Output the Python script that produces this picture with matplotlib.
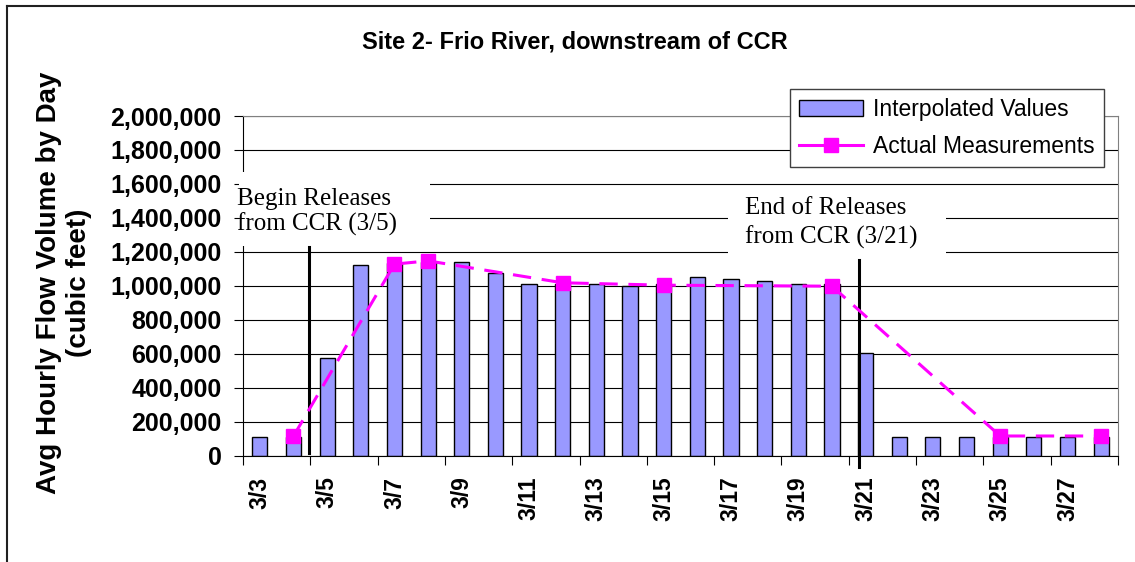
import numpy as np
import matplotlib
matplotlib.use('Agg')
import matplotlib.pyplot as plt
from matplotlib.patches import Rectangle
from matplotlib.lines import Line2D
from matplotlib.ticker import FuncFormatter, FixedLocator

plt.rcParams['font.family'] = ['Liberation Sans', 'DejaVu Sans']

# data
days = ['3/3', '3/4', '3/5', '3/6', '3/7', '3/8', '3/9', '3/10', '3/11', '3/12',
        '3/13', '3/14', '3/15', '3/16', '3/17', '3/18', '3/19', '3/20', '3/21',
        '3/22', '3/23', '3/24', '3/25', '3/26', '3/27', '3/28']
interpolated = [108000, 108000, 577000, 1120000, 1132000, 1140000, 1139000, 1078000,
                1012000, 1010000, 1012000, 1000000, 1012000, 1050000, 1040000, 1030000,
                1012000, 1010000, 602000, 108000, 108000, 108000, 108000, 108000,
                108000, 108000]
meas_days = ['3/4', '3/7', '3/8', '3/12', '3/15', '3/20', '3/25', '3/28']
meas_vals = [115000, 1128000, 1147000, 1018000, 1004000, 998000, 116000, 116000]
label_days = days[::2]

W, H = 1135, 562
fig = plt.figure(figsize=(W / 100, H / 100), dpi=100)
fig.patch.set_facecolor('white')

ax = fig.add_axes([243 / W, 1 - 455.7 / H, (1118 - 243) / W, (455.7 - 116) / H])

x = np.arange(len(days))
bars = ax.bar(x, interpolated, width=0.45, color='#9999FF', edgecolor='black',
              linewidth=1.0, zorder=2, label='Interpolated Values')

mx = [days.index(d) for d in meas_days]
ax.plot(mx, meas_vals, color='#FF00FF', lw=2.2, ls=(0, (6, 3.5)),
        marker='s', markersize=9.5, zorder=4)
line_handle = Line2D([], [], color='#FF00FF', lw=2.2, marker='s', markersize=9.5,
                     label='Actual Measurements')

ax.set_xlim(-0.5, len(days) - 0.5)
ax.set_ylim(0, 2000000)

# grid and spines
ax.set_yticks(np.arange(0, 2000001, 200000))
ax.yaxis.grid(True, color='black', lw=0.8)
ax.set_axisbelow(True)
ax.yaxis.set_major_formatter(FuncFormatter(lambda v, p: f'{int(v):,}'))
for side in ['top', 'right']:
    ax.spines[side].set_color('#808080')
for side in ['left', 'bottom']:
    ax.spines[side].set_color('black')
ax.tick_params(axis='y', length=6.5, width=0.8, pad=9, labelsize=18)
for lab in ax.get_yticklabels():
    lab.set_fontweight('bold')

# category ticks between every second day, labels on the day
ax.xaxis.set_major_locator(FixedLocator(np.arange(-0.5, len(days), 2)))
ax.xaxis.set_major_formatter(FuncFormatter(lambda v, p: ''))
ax.xaxis.set_minor_locator(FixedLocator(x[::2]))
ax.set_xticklabels(label_days, minor=True, rotation=90, fontsize=16.5,
                   fontweight='bold', va='top')
ax.tick_params(axis='x', which='major', length=6.5, width=0.8)
ax.tick_params(axis='x', which='minor', length=0, pad=15)

# release markers
ax.plot([1.46, 1.46], [16000, 1228000], color='black', lw=2.2, zorder=3)
ax.plot([17.8, 17.8], [-66000, 1150000], color='black', lw=2.2, zorder=3,
        clip_on=False)

serif = 'Liberation Serif'
ax.add_patch(Rectangle((-0.62, 1234000), 5.67, 435000, facecolor='white',
                       edgecolor='none', zorder=2.6, clip_on=False))
ax.text(-0.68, 1510000, 'Begin Releases', family=serif, fontsize=18,
        va='center', ha='left', zorder=5)
ax.text(-0.68, 1365000, 'from CCR (3/5)', family=serif, fontsize=18,
        va='center', ha='left', zorder=5)

ax.add_patch(Rectangle((13.9, 1163000), 6.5, 399000, facecolor='white',
                       edgecolor='none', zorder=2.6, clip_on=False))
ax.text(14.42, 1456000, 'End of Releases', family=serif, fontsize=18,
        va='center', ha='left', zorder=5)
ax.text(14.42, 1286000, 'from CCR (3/21)', family=serif, fontsize=18,
        va='center', ha='left', zorder=5)

# titles
fig.text(575 / W, 1 - 42 / H, 'Site 2- Frio River, downstream of CCR',
         fontsize=17, fontweight='bold', ha='center', va='center')
fig.text(64 / W, 1 - 283 / H, 'Avg Hourly Flow Volume by Day\n(cubic feet)',
         fontsize=20, fontweight='bold', rotation=90, ha='center', va='center',
         multialignment='center')

leg = fig.legend(handles=[bars, line_handle], loc='upper right',
                 bbox_to_anchor=(1104 / W, 1 - 89 / H), fontsize=16.5,
                 fancybox=False, framealpha=1, edgecolor='#404040',
                 handlelength=2.8, handletextpad=0.45, labelspacing=0.6,
                 borderpad=0.4, borderaxespad=0)
leg.get_frame().set_linewidth(1.0)

# outer chart border (left and top visible)
fig.add_artist(Line2D([7 / W, 7 / W], [0, 1 - 6 / H], transform=fig.transFigure,
                      color='#202020', lw=1.5))
fig.add_artist(Line2D([7 / W, 1], [1 - 6 / H, 1 - 6 / H], transform=fig.transFigure,
                      color='#202020', lw=1.5))

fig.savefig('out.png', dpi=100)
